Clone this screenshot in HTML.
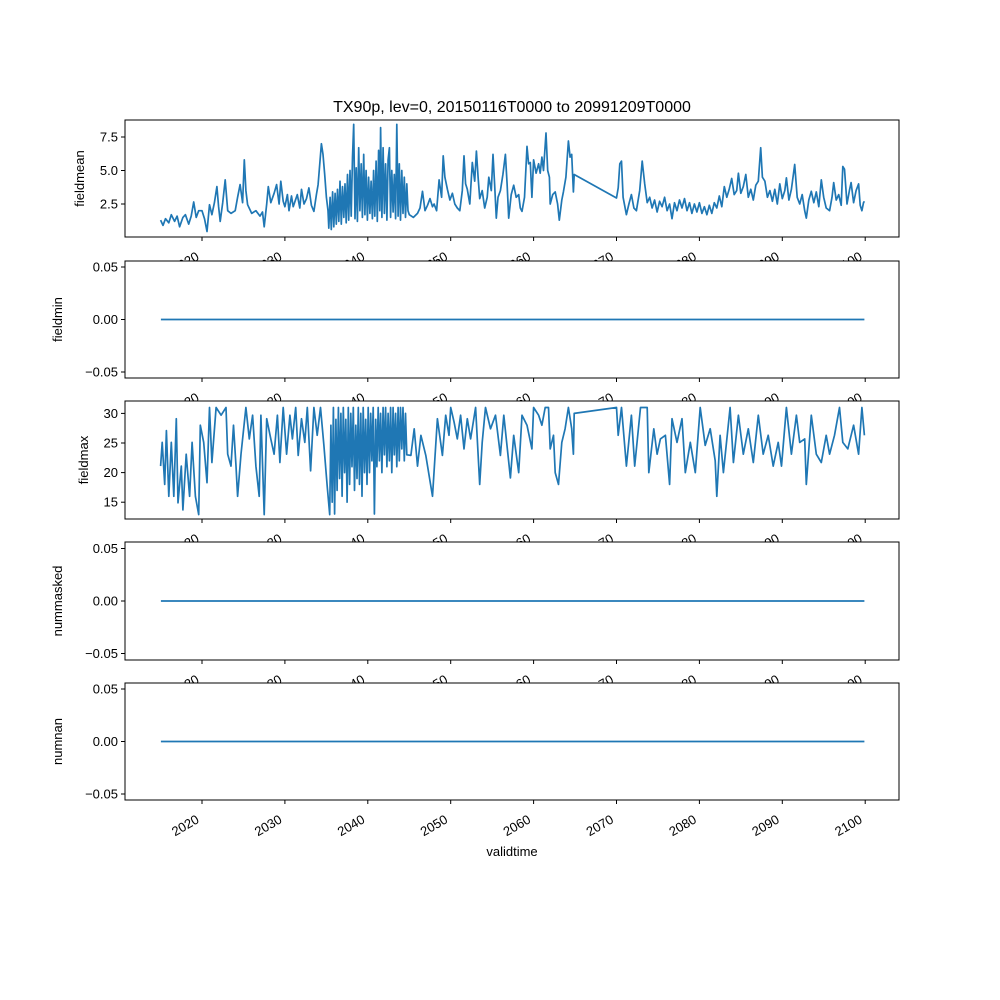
<!DOCTYPE html>
<html><head><meta charset="utf-8"><style>
body{margin:0;background:#fff}
svg{display:block;font-family:"Liberation Sans","DejaVu Sans",sans-serif}
</style></head><body>
<svg id="fig" width="1000" height="1000" viewBox="0 0 1000 1000" xmlns="http://www.w3.org/2000/svg">
<rect width="1000" height="1000" fill="#fff"/>
<text x="512" y="112" font-size="16" text-anchor="middle">TX90p, lev=0, 20150116T0000 to 20991209T0000</text>
</svg>
<script>
const xTicks=[2020,2030,2040,2050,2060,2070,2080,2090,2100];
const flatT=[2015.04,2099.9];
const flatV=[0,0];
const meanT=[2015.0,2015.3,2015.6,2016.0,2016.3,2016.7,2017.0,2017.3,2017.7,2018.0,2018.4,2018.7,2019.0,2019.3,2019.6,2020.0,2020.3,2020.6,2020.9,2021.2,2021.5,2021.8,2022.0,2022.2,2022.5,2022.8,2023.1,2023.5,2024.0,2024.3,2024.6,2024.9,2025.1,2025.3,2025.5,2026.0,2026.5,2027.0,2027.3,2027.5,2027.8,2028.0,2028.3,2028.7,2029.0,2029.3,2029.5,2029.8,2030.0,2030.3,2030.5,2030.8,2031.0,2031.5,2031.8,2032.0,2032.3,2032.6,2032.9,2033.2,2033.5,2033.8,2034.0,2034.4,2034.6,2034.8,2035.0,2035.2,
2035.3,2035.45,2035.6,2035.75,2035.9,2036.05,2036.2,2036.35,2036.5,2036.65,2036.8,2036.95,2037.1,2037.25,2037.4,2037.55,2037.7,2037.85,2038.0,2038.15,2038.3,2038.45,2038.6,2038.75,2038.9,2039.05,2039.2,2039.35,2039.5,2039.65,2039.8,2039.95,2040.1,2040.25,2040.4,2040.55,2040.7,2040.85,2041.0,2041.15,2041.3,2041.45,2041.55,2041.7,2041.85,2042.0,2042.15,2042.3,2042.45,2042.6,2042.75,2042.9,2043.05,2043.2,2043.35,2043.5,2043.65,2043.8,2043.95,2044.1,2044.25,2044.4,2044.55,2044.7,2044.85,
2045.0,2045.5,2046.0,2046.3,2046.6,2046.9,2047.2,2047.5,2047.8,2048.0,2048.3,2048.6,2048.9,2049.1,2049.3,2049.6,2049.9,2050.2,2050.5,2050.8,2051.1,2051.4,2051.6,2051.8,2052.0,2052.3,2052.6,2052.9,2053.1,2053.3,2053.5,2053.8,2054.1,2054.4,2054.6,2054.9,2055.1,2055.3,2055.5,2055.7,2056.0,2056.3,2056.6,2056.8,2057.0,2057.3,2057.6,2057.9,2058.2,2058.4,2058.6,2058.9,2059.2,2059.4,2059.6,2059.8,2060.0,2060.3,2060.6,2060.8,2061.0,2061.2,2061.5,2061.7,2061.9,2062.0,2062.3,2062.6,2062.9,2063.1,2063.4,2063.6,2063.9,2064.2,2064.4,2064.6,2064.8,2064.9,
2070.0,2070.2,2070.4,2070.6,2070.8,2071.2,2071.5,2071.8,2072.1,2072.4,2072.8,2073.1,2073.4,2073.7,2074.0,2074.3,2074.6,2074.9,2075.2,2075.5,2075.8,2076.1,2076.4,2076.7,2077.0,2077.3,2077.6,2077.9,2078.2,2078.5,2078.8,2079.1,2079.4,2079.7,2080.0,2080.3,2080.6,2080.9,2081.2,2081.5,2081.8,2082.1,2082.4,2082.7,2083.0,2083.3,2083.6,2083.9,2084.2,2084.5,2084.7,2085.0,2085.3,2085.6,2085.9,2086.2,2086.5,2086.8,2087.1,2087.4,2087.6,2087.9,2088.2,2088.5,2088.8,2089.1,2089.4,2089.7,2090.0,2090.3,2090.5,2090.8,2091.1,2091.5,2091.8,2092.1,2092.4,2092.7,2092.9,2093.2,2093.5,2093.8,2094.1,2094.4,2094.7,2095.0,2095.3,2095.7,2096.0,2096.2,2096.5,2096.8,2097.1,2097.3,2097.5,2097.8,2098.1,2098.3,2098.6,2098.9,2099.2,2099.4,2099.6,2099.8,2099.9];
const meanV=[1.3,0.9,1.4,1.1,1.7,1.2,1.6,0.8,1.5,1.7,1.0,1.6,2.65,1.5,2.0,2.0,1.4,0.45,2.45,1.7,2.6,3.8,2.3,1.2,2.6,4.3,2.0,1.8,2.0,3.0,3.95,2.6,5.8,3.5,2.45,1.8,2.0,1.6,1.9,0.8,2.5,3.8,2.6,3.3,3.95,2.5,4.2,2.7,2.3,3.2,2.0,3.1,2.3,3.2,2.2,3.6,2.5,2.9,3.7,2.4,1.95,3.2,3.95,7.0,6.2,4.7,3.0,2.0,
0.7,3.0,0.6,3.4,0.8,3.3,1.0,3.6,1.2,4.2,1.0,3.8,1.5,4.0,1.1,4.7,1.3,5.0,1.6,6.0,8.45,1.4,5.2,1.2,6.7,2.0,5.5,1.5,6.2,1.7,5.0,1.3,4.5,1.8,4.2,1.4,5.0,1.6,5.7,1.2,6.5,2.0,8.2,1.5,6.7,1.8,5.5,1.3,5.8,6.7,1.5,5.0,1.9,4.7,1.4,8.45,1.6,5.5,1.3,5.0,1.8,4.5,1.5,4.0,2.0,
1.7,1.5,1.8,2.2,3.45,2.0,2.4,2.9,2.3,2.5,2.0,4.3,3.0,6.1,4.5,3.6,2.8,3.3,2.5,2.2,2.0,3.5,6.1,4.0,3.6,2.5,5.6,4.2,6.45,4.5,2.9,3.5,2.2,3.0,4.5,3.5,6.2,4.0,1.45,3.0,3.5,4.7,6.2,4.0,1.45,3.2,3.9,3.0,3.2,2.2,1.95,3.0,6.8,5.5,5.6,3.0,5.8,4.8,5.5,4.8,6.0,5.0,7.8,5.0,4.5,2.5,3.2,3.4,2.5,1.3,2.8,3.4,4.5,7.2,6.0,6.2,3.4,4.7,
2.95,3.7,5.5,5.7,3.0,1.7,2.5,3.2,2.2,2.0,3.5,5.7,4.0,2.6,3.0,2.2,2.8,1.9,2.7,2.3,3.0,2.0,2.5,1.4,2.6,2.0,2.8,2.2,2.9,2.0,2.6,1.8,2.5,1.9,2.6,1.8,2.3,1.7,2.4,1.8,2.6,2.2,3.1,2.3,3.8,3.0,3.6,4.4,3.2,3.5,4.8,3.3,3.8,4.7,3.0,3.6,2.8,3.9,4.2,6.7,4.5,4.2,3.0,3.5,2.7,3.6,2.5,4.0,2.9,3.5,4.45,2.8,3.6,5.45,3.0,2.5,3.2,2.0,1.45,2.8,3.45,2.6,3.4,2.3,4.3,3.0,2.2,2.0,3.0,4.1,2.8,3.2,2.4,5.3,5.1,2.5,3.5,4.1,2.6,3.5,4.0,2.4,2.0,2.6,2.7];
const maxT=[2015.0,2015.2,2015.5,2015.7,2016.0,2016.3,2016.6,2016.9,2017.1,2017.5,2017.7,2018.1,2018.5,2018.8,2019.2,2019.6,2019.8,2020.2,2020.6,2020.9,2021.2,2021.7,2022.3,2022.9,2023.1,2023.5,2023.8,2024.1,2024.3,2024.7,2025.3,2025.7,2026.1,2026.5,2026.9,2027.1,2027.5,2027.8,2028.3,2028.7,2029.1,2029.4,2029.8,2030.2,2030.6,2030.9,2031.3,2031.6,2032.0,2032.4,2032.7,2033.1,2033.5,2033.9,2034.3,2034.7,2035.1,2035.4,
2035.55,2035.7,2035.85,2036.0,2036.15,2036.3,2036.45,2036.6,2036.75,2036.9,2037.05,2037.2,2037.35,2037.5,2037.65,2037.8,2037.95,2038.1,2038.25,2038.4,2038.55,2038.7,2038.85,2039.0,2039.15,2039.3,2039.45,2039.6,2039.75,2039.9,2040.05,2040.2,2040.35,2040.5,2040.65,2040.8,2040.95,2041.1,2041.25,2041.4,2041.55,2041.7,2041.85,2042.0,2042.15,2042.3,2042.45,2042.6,2042.75,2042.9,2043.05,2043.2,2043.35,2043.5,2043.65,2043.8,2043.95,2044.1,2044.25,2044.4,2044.55,2044.7,
2045.2,2045.6,2046.0,2046.4,2047.0,2047.8,2048.4,2049.0,2049.4,2049.8,2050.0,2050.4,2050.8,2051.2,2051.6,2052.0,2052.4,2053.0,2053.5,2053.8,2054.2,2054.8,2055.4,2056.0,2056.4,2057.2,2057.6,2058.2,2058.6,2059.2,2059.8,2060.0,2060.6,2061.0,2061.4,2061.8,2062.0,2062.4,2062.6,2063.0,2063.4,2063.8,2064.2,2064.6,2064.8,2064.9,
2070.0,2070.2,2070.6,2071.2,2071.8,2072.2,2072.9,2073.7,2073.9,2074.5,2074.9,2075.3,2075.9,2076.4,2076.7,2077.3,2077.9,2078.3,2078.9,2079.5,2080.1,2080.7,2081.3,2081.9,2082.1,2082.5,2082.9,2083.7,2084.1,2084.7,2085.3,2085.9,2086.5,2087.1,2087.7,2088.3,2088.9,2089.5,2089.9,2090.5,2091.1,2091.7,2092.1,2092.7,2092.9,2093.5,2094.1,2094.7,2095.3,2095.7,2096.3,2096.9,2097.3,2097.9,2098.6,2099.2,2099.6,2099.9];
const maxV=[21.1,25.1,18,27.1,16,25.1,16,29.1,14.9,21.1,13.7,23.1,16,25.1,16,12.9,28,25.1,18.3,31,21.7,31,29.7,31,23.1,21.1,28,21.1,16,23.1,31,25.7,29.7,21.1,16,29.7,12.9,29.1,25.7,23.1,29.7,21.7,31,23.1,29.7,25.7,31,22.9,29.1,25.1,31,20.3,31,26.3,31,24.6,17.7,12.9,
28,15,31,13,29,17,31,19,30,16,31,20,29,15,31,18,30,21,31,17,28,19,31,18,30,16,31,20,29,18,31,20,30,22,31,13,29,21,31,22,30,20,31,23,31,21,30,22,31,20,31,23,30,21,31,22,31,24,31,22,30,23,
22.9,27.4,21.1,26.3,22.9,16,29.1,22.9,29.7,26.3,31,28.6,25.7,29.7,24,29.1,25.7,31,18,25.1,31,27.4,29.7,22.9,29.7,19.1,26.3,20,29.7,28,24,31,29.7,28,31,31,24,26.3,20,18,25.1,27.4,31,27.4,23.1,30,
31,26.3,31,21.1,29.7,21.1,31,31,20,27.4,23.1,25.7,26.3,18,29.1,25.1,29.1,20,25.1,20,31,24.6,27.4,22,16,26.3,20,31,21.7,29.7,23.1,27.4,21.7,29.7,23.1,26.3,21.1,25.1,21.1,31,23.1,29.7,25.1,25.7,18,29.7,23.1,21.7,26.3,23.1,26.3,31,25.1,24,28,23.1,31,26.3];

const NS='http://www.w3.org/2000/svg';
const fig=document.getElementById('fig');
const X0=125,X1=899;
function xs(yr){return 202+(yr-2020)*8.29;}
function mk(tag,attrs,parent){const e=document.createElementNS(NS,tag);for(const k in attrs)e.setAttribute(k,attrs[k]);(parent||fig).appendChild(e);return e;}

const panels=[
 {name:'fieldmean',top:120,bot:237,T:meanT,V:meanV,ylab:'fieldmean',labx:84,ticks:[2.5,5.0,7.5],tl:['2.5','5.0','7.5'],ys:v=>204-(v-2.5)*13.4},
 {name:'fieldmin',top:261,bot:378,T:flatT,V:flatV,ylab:'fieldmin',labx:62,ticks:[-0.05,0,0.05],tl:['\u22120.05','0.00','0.05'],ys:v=>319.5-v*1050},
 {name:'fieldmax',top:401,bot:519,T:maxT,V:maxV,ylab:'fieldmax',labx:88,ticks:[15,20,25,30],tl:['15','20','25','30'],ys:v=>443-(v-25)*5.92},
 {name:'nummasked',top:542,bot:660,T:flatT,V:flatV,ylab:'nummasked',labx:62,ticks:[-0.05,0,0.05],tl:['\u22120.05','0.00','0.05'],ys:v=>601-v*1050},
 {name:'numnan',top:683,bot:800,T:flatT,V:flatV,ylab:'numnan',labx:62,ticks:[-0.05,0,0.05],tl:['\u22120.05','0.00','0.05'],ys:v=>741.5-v*1050}
];

panels.forEach(p=>{
 const g=mk('g',{});
 
 
 const bg=mk('rect',{x:X0,y:p.top,width:X1-X0,height:p.bot-p.top,fill:'#fff'},g);
 
 
 let d='';
 for(let i=0;i<p.T.length;i++){d+=(i?'L':'M')+xs(p.T[i]).toFixed(1)+','+p.ys(p.V[i]).toFixed(1);}
 const ln=mk('path',{d:d,fill:'none',stroke:'#1f77b4','stroke-width':1.7,'stroke-linejoin':'round'},g);
 
 
 const fr=mk('rect',{x:X0,y:p.top,width:X1-X0,height:p.bot-p.top,fill:'none',stroke:'#000','stroke-width':1},g);
 
 
 p.ticks.forEach((t,i)=>{
  const y=p.ys(t);
  mk('line',{x1:X0-4,x2:X0,y1:y,y2:y,stroke:'#000'},g);
  const tx=mk('text',{x:X0-7,y:y+4.5,'font-size':13,'text-anchor':'end'},g);
  tx.textContent=p.tl[i];
  
  
 });
 const yl=mk('text',{x:p.labx,y:(p.top+p.bot)/2,'font-size':13,'text-anchor':'middle',transform:'rotate(-90 '+p.labx+' '+((p.top+p.bot)/2)+')'},g);
 yl.textContent=p.ylab;
 
 
 xTicks.forEach(t=>{
  const x=xs(t);
  mk('line',{x1:x,x2:x,y1:p.bot,y2:p.bot+4,stroke:'#000'},g);
  const ax=x-2,ay=p.bot+22;
  const tx=mk('text',{x:ax,y:ay,'font-size':13,'text-anchor':'end',transform:'rotate(-30 '+ax+' '+ay+')'},g);
  tx.textContent=String(t);
  
  
 });
});
const xl=mk('text',{x:512,y:856,'font-size':13,'text-anchor':'middle'});
xl.textContent='validtime';


</script>
</body></html>
